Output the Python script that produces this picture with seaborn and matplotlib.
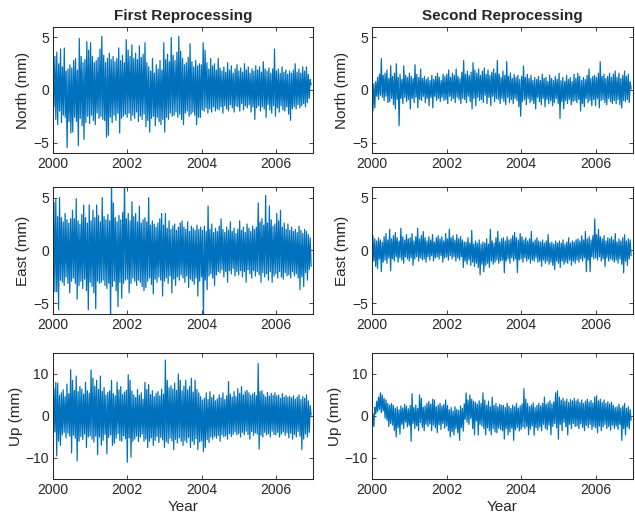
import numpy as np
import pandas as pd
import matplotlib
matplotlib.use("Agg")
import matplotlib.pyplot as plt
import seaborn as sns

# Werte grob aus dem Bild gelesen (obere/untere Ausschläge pro ~9 Tage), mm
north_first = [
    0.5, -1.6, 3.2, -2.8, 3.6, -3.3, 2.5, -2.0, 3.9, -3.1, 2.2, -2.4, 4.0, -2.6, 1.8, -5.5, 2.0, -3.0, 2.4, -4.1,
    2.1, -4.0, 2.8, -2.6, 3.0, -3.0, 1.9, -5.3, 4.9, -2.7, 3.2, -3.4, 2.6, -4.7, 2.9, -3.1, 4.6, -2.5, 3.8, -3.2,
    4.5, -2.4, 3.2, -2.9, 2.6, -3.3, 2.8, -2.2, 3.1, -2.7, 3.9, -2.5, 5.1, -2.8, 3.3, -2.9, 2.6, -4.5, 3.0,
    -4.3, 3.5, -2.6, 2.9, -3.1, 3.2, -2.4, 2.7, -2.9, 3.0, -2.2, 4.0, -4.1, 2.8, -2.7, 3.3, -2.5, 2.6, -2.3, 4.8,
    -2.6, 3.8, -2.2, 3.2, -2.9, 4.3, -2.4, 3.0, -2.7, 3.5, -2.1, 2.9, -3.0, 4.2, -2.5, 3.1, -2.8, 3.4, -2.3,
    4.5, -3.5, 2.6, -2.9, 2.2, -4.0, 1.8, -2.7, 3.0, -2.5, 1.6, -3.4, 2.4, -2.6, 2.0, -3.0, 2.8, -3.3, 1.9, -2.8,
    4.5, -4.0, 2.9, -2.6, 3.4, -2.8, 2.7, -2.2, 5.0, -2.5, 3.3, -2.4, 2.8, -2.1, 3.6, -2.6, 5.1, -2.3, 3.7,
    -2.8, 3.0, -3.3, 2.4, -2.2, 2.6, -2.0, 3.1, -2.5, 4.4, -2.3, 2.7, -2.1, 2.2, -2.4, 2.8, -3.3, 2.3, -2.6, 2.5,
    -2.6, 2.4, -1.9, 4.5, -2.0, 3.8, -1.7, 2.6, -2.2, 2.0, -1.8, 3.0, -2.1, 2.3, -1.6, 2.5, -2.0, 1.9, -1.8,
    3.0, -1.9, 2.1, -1.6, 1.8, -2.2, 2.2, -1.5, 1.7, -1.8, 2.6, -2.0, 1.9, -1.4, 2.3, -1.7, 1.6, -2.1, 2.0, -1.5,
    2.4, -1.6, 1.8, -2.0, 2.1, -1.3, 1.7, -1.9, 2.5, -1.5, 1.9, -1.7, 2.2, -1.4, 1.6, -2.1, 2.0, -1.6, 1.8, -2.8,
    2.3, -1.7, 1.9, -1.5, 2.2, -2.0, 1.7, -1.6, 2.7, -1.8, 2.0, -2.6, 1.8, -1.4, 2.1, -1.9, 1.6, -2.2, 2.0, -1.5,
    3.9, -2.5, 1.8, -1.7, 2.0, -2.1, 1.6, -1.5, 2.2, -1.9, 1.7, -2.0, 1.9, -1.6, 1.5, -2.3, 1.8, -2.9, 1.6, -1.8,
    1.9, -1.6, 2.5, -1.8, 1.7, -1.4, 2.0, -1.7, 1.6, -1.5, 2.2, -1.3, 1.8, -1.6, 2.2, -1.2, 1.5, -0.8, 1.0, 0.5,
]
north_second = [
    -0.3, -2.0, 0.6, -1.7, 0.8, -0.6, 1.2, -0.9, 1.5, -0.5, 3.0, -0.7, 1.4, -1.0, 1.6, -0.6, 1.9, -1.2, 1.1,
    -1.1, 2.3, -0.8, 1.3, -1.4, 1.6, -1.8, 2.5, -0.9, 1.2, -3.4, 1.5, -0.8, 1.0, -1.3, 2.3, -0.7, 1.4, -1.1, 1.2,
    -0.9, 1.6, -1.8, 1.3, -0.8, 1.1, -1.2, 2.4, -0.7, 1.5, -1.7, 1.2, -0.9, 2.0, -1.0, 1.1, -0.6, 1.3, -1.2, 1.0,
    -0.8, 1.2, -1.5, 0.9, -0.7, 1.4, -1.7, 1.0, -0.6, 1.3, -1.0, 1.6, -0.8, 1.2, -1.1, 0.9, -0.7, 1.5, -1.0, 1.3,
    -0.9, 1.5, -1.3, 1.9, -0.6, 1.2, -1.0, 1.6, -0.8, 1.4, -1.2, 2.0, -0.7, 1.3, -0.9, 1.1, -1.3, 1.7, -0.8,
    2.8, -0.9, 1.5, -1.2, 1.8, -0.6, 1.4, -1.1, 1.7, -1.8, 2.6, -0.8, 1.9, -1.5, 1.6, -0.7, 2.0, -1.0, 1.4, -0.9,
    1.8, -1.2, 2.1, -0.5, 1.5, -1.3, 1.9, -0.7, 1.4, -1.5, 1.7, -0.6, 2.0, -1.1, 1.6, -0.8, 2.8, -0.9, 1.5, -1.3,
    1.2, -0.8, 1.8, -1.1, 1.4, -1.4, 2.7, -0.7, 1.3, -1.2, 1.6, -0.9, 1.1, -1.3, 1.5, -0.8, 1.2, -1.0, 1.4, -1.6,
    1.0, -2.5, 1.3, -1.1, 2.3, -0.9, 1.2, -1.4, 1.5, -0.8, 1.1, -1.2, 1.4, -1.0, 0.9, -1.3, 1.2, -1.8, 1.0, -0.7,
    1.3, -1.1, 0.9, -1.4, 1.5, -0.8, 1.1, -1.6, 1.2, -0.9, 0.8, -1.3, 1.4, -1.0, 1.1, -1.5, 0.9, -1.2, 1.3, -0.8,
    1.0, -1.3, 1.6, -2.7, 0.9, -1.1, 1.2, -1.8, 0.8, -1.0, 1.4, -1.3, 1.0, -0.9, 1.2, -1.4, 0.8, -1.1, 1.5, -1.0,
    1.1, -1.2, 1.6, -0.9, 1.3, -2.0, 0.9, -1.3, 1.2, -1.6, 1.0, -0.8, 1.4, -1.2, 2.0, -1.0, 1.1, -1.5, 1.3, -0.9,
    1.4, -1.5, 1.2, -0.8, 1.6, -1.7, 2.7, -1.0, 1.3, -0.9, 1.5, -1.2, 1.1, -1.4, 1.3, -0.8, 1.6, -1.1, 1.2, -1.3,
    1.5, -1.0, 1.8, -1.3, 1.2, -0.9, 1.6, -1.4, 1.1, -1.7, 1.4, -1.0, 1.8, -1.1, 1.3, -0.9, 1.5, -1.2, 0.8, 0.1,
]
east_first = [
    0.5, 4.5, -3.9, 4.8, -3.9, 3.2, -5.6, 5.0, -2.8, 3.1, -3.0, 2.7, -3.3, 3.5, -2.5, 2.9, -3.1, 2.6, -4.0, 3.0,
    -2.9, 3.8, -2.6, 3.0, -3.1, 4.9, -4.6, 2.8, -3.3, 2.5, -2.9, 3.4, -3.6, 4.3, -2.7, 3.1, -3.8, 2.6, -5.6,
    4.3, -3.0, 2.8, -3.4, 3.8, -4.0, 3.1, -5.5, 4.3, -2.9, 3.3, -3.1, 2.7, -3.0, 5.0, -2.8, 3.2, -3.3, 2.9, -3.6,
    3.4, -3.1, 2.8, -6.8, 6.8, -3.4, 4.5, -2.9, 3.1, -3.8, 2.7, -5.3, 3.3, -3.0, 2.9, -4.5, 3.6, -3.1, 6.8, -2.8,
    3.0, -2.7, 3.5, -4.0, 2.8, -3.1, 4.6, -2.6, 3.2, -2.9, 3.5, -3.3, 2.7, -2.8, 4.2, -3.0, 2.6, -3.4, 2.9, -3.8,
    3.1, -3.5, 2.7, -2.9, 5.0, -2.6, 2.4, -3.2, 2.8, -4.1, 2.5, -2.7, 2.2, -3.0, 2.6, -2.5, 3.0, -2.8, 3.5, -4.3,
    2.4, -2.9, 3.5, -2.6, 2.1, -3.1, 2.8, -2.4, 2.0, -4.0, 2.3, -2.7, 2.5, -3.3, 1.9, -2.5, 2.2, -2.8, 2.6, -2.3,
    2.8, -2.6, 2.2, -3.0, 2.0, -2.4, 2.7, -3.5, 1.8, -2.7, 2.3, -2.9, 2.1, -3.2, 1.9, -2.6, 2.4, -4.3, 2.0, -2.9,
    2.2, -2.5, 1.9, -6.5, 2.3, -2.8, 1.8, -3.7, 4.2, -2.4, 2.0, -2.2, 2.5, -2.6, 1.7, -3.3, 2.1, -2.3, 1.8, -2.0,
    2.3, -2.1, 3.0, -1.8, 2.0, -2.5, 1.7, -2.0, 2.2, -3.0, 1.9, -1.9, 2.7, -2.2, 1.8, -1.7, 2.1, -2.4, 1.6, -2.0,
    2.0, -2.3, 2.8, -1.9, 1.9, -2.5, 2.2, -2.0, 1.7, -3.0, 2.5, -1.8, 2.1, -2.2, 1.8, -2.6, 2.3, -1.9, 2.0, -2.4,
    2.2, -2.0, 4.5, -2.3, 2.7, -3.0, 3.0, -2.1, 2.4, -2.5, 5.2, -2.2, 2.6, -2.8, 4.2, -2.0, 2.9, -3.0, 2.3, -2.4,
    2.5, -2.2, 3.5, -2.6, 2.8, -2.0, 3.8, -2.5, 2.2, -2.7, 2.6, -2.1, 2.0, -2.4, 2.5, -2.3, 1.9, -2.6, 2.2, -2.0,
    1.8, -2.4, 2.0, -2.2, 1.7, -2.6, 2.3, -3.7, 1.9, -2.5, 1.6, -3.4, 2.0, -2.1, 1.8, -2.8, 1.5, -1.8, 1.2, -1.5,
]
east_second = [
    0.1, 1.4, -1.0, 1.1, -1.5, 0.9, -1.7, 1.2, -0.8, 1.0, -2.0, 0.8, -1.1, 1.3, -0.9, 1.6, -1.2, 1.0, -0.7, 2.0,
    -1.9, 1.1, -0.8, 1.4, -1.0, 1.7, -0.6, 1.2, -1.1, 0.9, -0.7, 2.1, -0.9, 1.3, -1.2, 1.0, -0.6, 1.5, -0.8, 1.1,
    -1.0, 1.2, -0.7, 1.6, -1.4, 0.9, -0.8, 1.3, -0.6, 2.1, -1.0, 1.1, -0.7, 1.4, -0.9, 1.8, -0.8, 1.2, -1.1, 0.9,
    -0.6, 1.3, -0.9, 1.0, -0.5, 1.5, -1.0, 0.8, -0.7, 1.2, -0.6, 1.4, -0.8, 1.1, -0.5, 1.3, -1.1, 0.9, -0.7, 1.6,
    -0.6, 1.1, -0.9, 2.0, -0.5, 1.2, -0.8, 1.4, -0.6, 1.0, -1.0, 1.5, -0.7, 1.1, -0.9, 1.3, -0.6, 1.0, -1.6, 0.8,
    -1.0, 0.8, -1.3, 1.2, -0.9, 0.7, -1.4, 1.9, -1.1, 0.6, -1.5, 0.9, -1.2, 0.7, -1.6, 1.0, -2.3, 0.6, -1.3, 0.8,
    -2.0, 0.7, -1.4, 1.1, -1.2, 0.6, -1.6, 2.0, -1.0, 0.9, -1.3, 0.7, -1.1, 1.2, -0.9, 1.8, -1.2, 0.8, -1.0, 1.1,
    -0.9, 1.2, -2.1, 0.9, -1.0, 1.3, -0.8, 1.0, -1.2, 1.1, -0.7, 1.4, -1.0, 1.7, -0.8, 1.2, -2.1, 1.0, -0.9, 1.6,
    -0.8, 1.3, -1.1, 1.0, -0.7, 1.2, -1.0, 0.9, -0.8, 1.1, -1.2, 1.8, -0.9, 0.8, -1.0, 1.0, -0.7, 1.2, -1.1, 0.9,
    -1.0, 0.8, -1.5, 1.0, -0.9, 0.7, -1.2, 0.9, -1.0, 1.5, -1.3, 0.7, -1.1, 0.8, -1.4, 0.6, -1.8, 0.9, -1.0, 0.7,
    -1.2, 0.9, -1.6, 0.7, -1.0, 1.0, -1.3, 0.6, -1.1, 0.8, -1.2, 1.2, -0.9, 0.7, -1.4, 0.9, -1.0, 0.8, -1.2, 1.0,
    -0.9, 1.1, -1.1, 0.9, -0.8, 1.4, -1.0, 1.0, -0.7, 1.8, -2.0, 1.1, -0.9, 1.3, -2.0, 1.0, -0.6, 1.4, -0.8,
    3.0, -0.7, 1.5, -0.9, 2.0, -0.6, 1.3, -1.0, 1.1, -0.8, 1.4, -1.5, 0.9, -0.7, 1.2, -1.0, 1.1, -0.8, 1.3, -0.9,
    1.0, -1.1, 1.6, -0.9, 0.8, -1.2, 1.1, -0.8, 0.9, -1.3, 1.2, -2.1, 1.5, -1.0, 0.9, -1.4, 1.1, -0.8, 1.0, -0.5,
]
up_first = [
    0.0, 6.5, -3.8, 8.0, -9.5, 7.8, -6.0, 4.9, -7.0, 5.5, -4.5, 6.2, -3.9, 4.6, -5.2, 7.6, -4.1, 5.3, -4.8,
    11.0, -8.8, 8.5, -4.6, 6.1, -5.3, 9.5, -10.7, 5.8, -6.0, 7.0, -4.9, 6.4, -5.6, 5.2, -4.3, 8.0, -7.5, 6.0, -5.0,
    5.4, -4.7, 11.0, -5.5, 9.0, -6.2, 7.1, -4.8, 8.5, -9.2, 6.3, -5.0, 9.5, -7.0, 5.9, -5.8, 6.8, -4.4, 5.0, -9.0,
    5.6, -5.1, 6.0, -4.5, 8.5, -7.0, 5.3, -6.5, 4.8, -5.3, 8.0, -4.2, 6.2, -5.8, 7.0, -6.0, 5.1, -4.7, 5.7, -5.4,
    6.1, -11.0, 9.8, -5.2, 8.5, -9.8, 5.9, -6.0, 5.0, -5.5, 4.4, -4.8, 6.3, -6.1, 4.9, -5.0, 5.5, -4.3, 4.0, -6.0,
    8.0, -5.5, 6.3, -7.5, 7.5, -6.0, 5.1, -5.2, 6.0, -7.0, 4.6, -5.8, 5.4, -4.9, 5.8, -6.3, 4.8, -5.1, 6.4, -5.7,
    5.2, -7.5, 13.3, -6.1, 8.5, -6.5, 6.7, -5.3, 7.2, -5.9, 6.4, -8.0, 7.8, -5.6, 6.1, -6.4, 10.0, -5.2, 8.5, -6.0,
    6.0, -7.0, 7.1, -5.8, 8.5, -6.3, 6.2, -5.1, 7.0, -7.5, 9.0, -6.0, 5.7, -6.8, 8.5, -5.4, 6.3, -8.0, 5.5, -6.2,
    4.6, -5.9, 3.8, -8.5, 4.2, -7.5, 5.5, -5.6, 3.9, -6.3, 5.8, -5.0, 4.4, -5.5, 5.0, -4.8, 3.6, -5.3, 4.1, -4.6,
    5.0, -6.0, 4.3, -4.5, 5.5, -5.0, 3.9, -4.7, 4.8, -5.5, 8.2, -4.2, 5.2, -4.9, 4.5, -4.4, 5.8, -3.8, 4.6, -4.5,
    6.5, -4.2, 5.4, -5.0, 7.0, -3.9, 5.0, -4.5, 5.8, -3.6, 6.1, -4.4, 5.5, -5.5, 4.9, -3.7, 5.2, -4.6, 5.6, -4.0,
    4.8, -4.3, 12.5, -7.9, 5.8, -4.6, 6.0, -5.0, 5.1, -3.9, 4.5, -4.5, 5.6, -4.2, 4.7, -5.0, 5.4, -3.6, 4.9, -4.4,
    5.5, -4.5, 4.8, -3.9, 5.0, -5.0, 4.2, -4.3, 5.3, -3.8, 4.5, -4.6, 4.9, -4.0, 4.4, -5.2, 4.7, -4.1, 4.3, -5.5,
    4.8, -4.4, 4.0, -5.0, 4.5, -3.7, 5.0, -4.8, 3.9, -8.0, 4.6, -5.5, 4.2, -4.3, 5.0, -5.0, 3.6, -3.9, 2.5, 0.2,
]
up_second = [
    -2.0, 0.5, -2.5, 2.0, 0.5, 3.5, 1.0, 4.5, 1.5, 5.5, 0.8, 5.0, 1.2, 4.2, -0.5, 3.8, -1.0, 3.0, -2.5, 2.6,
    -1.8, 3.0, -2.2, 2.5, -3.5, 1.8, -5.0, 2.2, -2.8, 1.5, -4.3, 2.4, -2.0, 1.9, -3.0, 2.8, -1.5, 2.3, -2.6, 1.7,
    -2.2, 2.5, -6.0, 5.3, -1.8, 2.0, -3.0, 2.6, -2.4, 1.8, -3.5, 5.0, -1.6, 4.2, -2.7, 2.1, -3.5, 2.4, -2.0, 3.0,
    -2.5, 3.5, -1.9, 2.8, -3.5, 4.0, -2.2, 3.8, -2.8, 2.2, -4.0, 2.6, -2.1, 3.0, -3.2, 2.4, -1.8, 2.7, -2.9, 3.8,
    -2.4, 2.5, -3.5, 1.5, -5.0, 2.0, -3.8, 1.2, -4.5, 2.2, -3.0, 1.6, -4.0, 1.3, -5.8, 2.4, -2.8, 1.8, -3.6, 2.9,
    -0.8, 5.5, -1.5, 3.8, -2.0, 5.0, -0.6, 4.0, -3.0, 3.5, -4.5, 3.2, -1.2, 2.8, -4.5, 3.6, -2.0, 3.0, -2.4, 5.5,
    -3.0, 3.8, -4.5, 2.6, -2.8, 3.5, -3.5, 2.2, -4.5, 4.5, -3.0, 2.5, -3.8, 3.0, -4.0, 2.2, -2.9, 2.8, -3.2, 2.5,
    -3.5, 2.5, -5.5, 2.0, -3.0, 3.0, -4.5, 2.3, -3.8, 1.8, -2.9, 2.6, -5.8, 2.2, -3.3, 3.0, -2.7, 1.9, -3.6, 2.4,
    -3.2, 2.8, -2.6, 6.5, -3.0, 4.0, -2.5, 3.0, -4.5, 2.2, -3.1, 2.6, -2.4, 3.1, -4.6, 2.0, -2.8, 2.5, -3.4, 3.0,
    -2.6, 2.4, -3.5, 3.0, -2.0, 4.5, -2.9, 2.8, -3.3, 3.2, -2.2, 3.6, -4.5, 2.9, -2.5, 3.4, -1.8, 5.5, -2.8,
    6.0, -5.5, 4.5, -2.0, 3.8, -3.5, 4.2, -1.5, 3.5, -2.6, 4.0, -4.5, 3.2, -2.0, 3.9, -3.0, 3.6, -1.8, 4.2, -2.5,
    3.6, -2.4, 4.0, -3.0, 3.2, -1.9, 3.8, -2.7, 3.0, -3.5, 3.5, -2.2, 4.0, -2.8, 3.3, -2.0, 3.7, -3.2, 3.1, -2.5,
    4.5, -2.8, 4.8, -4.0, 3.6, -2.4, 4.0, -3.5, 3.2, -2.6, 3.8, -2.0, 3.0, -3.0, 3.4, -2.5, 2.9, -3.4, 3.3, -2.2,
    2.5, -3.0, 2.0, -2.4, 2.2, -3.2, 2.8, -2.0, 1.9, -5.8, 2.4, -3.0, 3.0, -4.5, 1.8, -2.6, 2.2, -3.1, 1.5, -1.0,
]

year_start, year_end = 2000.0, 2006.95
titles = ["First Reprocessing", "Second Reprocessing"]
ylabels = ["North (mm)", "East (mm)", "Up (mm)"]
ylims = [(-6, 6), (-6, 6), (-15, 15)]
yticks = [[-5, 0, 5], [-5, 0, 5], [-10, 0, 10]]
xticks = [2000, 2002, 2004, 2006]

series = [[north_first, north_second],
          [east_first, east_second],
          [up_first, up_second]]

sns.set_style("ticks")
plt.rcParams["font.family"] = ["Liberation Sans", "DejaVu Sans"]

fig = plt.figure(figsize=(6.35, 5.19), dpi=100)

# Achsenpositionen (Bruchteile der Figur)
col_x = [0.0835, 0.5858]
col_w = [0.4094, 0.411]
row_y = [0.7052, 0.395, 0.0771]
row_h = [0.2428, 0.2447, 0.2428]

for r in range(3):
    for c in range(2):
        vals = series[r][c]
        df = pd.DataFrame({"year": np.linspace(year_start, year_end, len(vals)), "mm": vals})
        ax = fig.add_axes([col_x[c], row_y[r], col_w[c], row_h[r]])
        sns.lineplot(data=df, x="year", y="mm", ax=ax, color="#0072BD",
                     linewidth=0.9, estimator=None, errorbar=None)
        ax.set_xlim(2000, 2007)
        ax.set_ylim(*ylims[r])
        ax.set_xticks(xticks)
        ax.set_yticks(yticks[r])
        ax.tick_params(direction="in", top=True, right=True, length=3, width=0.6,
                       labelsize=10, colors="#262626", pad=3)
        for s in ax.spines.values():
            s.set_visible(True)
            s.set_linewidth(0.75)
            s.set_color("#262626")
        ax.set_ylabel(ylabels[r], fontsize=11, color="#262626", labelpad=2)
        if r == 2:
            ax.set_xlabel("Year", fontsize=11, color="#262626", labelpad=2)
        else:
            ax.set_xlabel("")
        if r == 0:
            ax.set_title(titles[c], fontsize=11, fontweight="bold", pad=5)

fig.savefig("out.png", dpi=100)
